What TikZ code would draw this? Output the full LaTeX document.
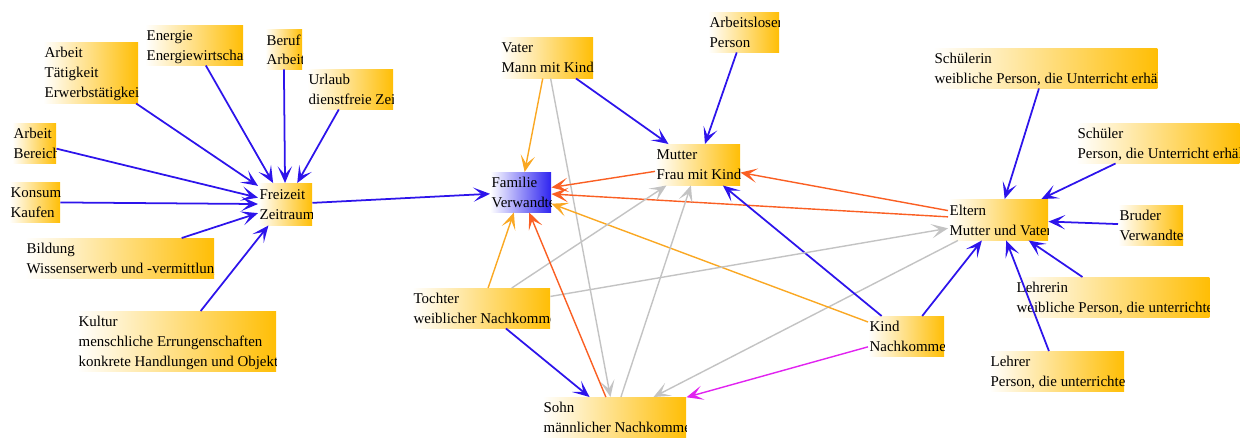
\documentclass[tikz,border=0pt]{standalone}
\usepackage{fontspec}
\setmainfont{Liberation Serif}
\usetikzlibrary{arrows.meta}

\definecolor{boxgold}{RGB}{255,190,5}
\definecolor{famblue}{RGB}{45,35,240}
\definecolor{linkblue}{RGB}{45,20,235}
\definecolor{linkamber}{RGB}{250,168,35}
\definecolor{linkred}{RGB}{250,95,35}
\definecolor{linkgrey}{RGB}{195,195,195}
\definecolor{linkpink}{RGB}{225,35,240}

\tikzset{
	conceptlabel/.style={anchor=north west, inner xsep=1pt, inner ysep=4.3pt, align=left, font=\fontsize{12.75}{17}\selectfont},
	concept/.style={anchor=north west, inner sep=0pt, left color=white, right color=boxgold,
		path picture={\node[conceptlabel] at (path picture bounding box.north west) {#1};}},
	familybox/.style={concept={#1}, right color=famblue},
	link/.style={-{Stealth[length=5mm,width=4.3mm,inset=2.5mm]}},
	bluelink/.style={link, draw=linkblue, line width=1.5pt},
	amberlink/.style={link, draw=linkamber, line width=1.2pt},
	redlink/.style={link, draw=linkred, line width=1.2pt},
	greylink/.style={link, draw=linkgrey, line width=1.2pt},
	pinklink/.style={link, draw=linkpink, line width=1.2pt}
}

\begin{document}
\begin{tikzpicture}[x=0.03cm, y=-0.03cm]
		\useasboundingbox (0,0) rectangle (1247,437);
		%%%%% LEFT %%%%%
		\node[concept={Arbeit\\Tätigkeit\\Erwerbstätigkeit}, minimum width=2.85cm, minimum height=1.83cm] (arbeitT) at (43,42) {};
		\node[concept={Energie\\Energiewirtschaft}, minimum width=2.94cm, minimum height=1.2cm] (energie) at (145,25) {};
		\node[concept={Beruf\\Arbeit}, minimum width=1.11cm, minimum height=1.2cm] (beruf) at (265,29) {};
		\node[concept={Urlaub\\dienstfreie Zeit}, minimum width=2.58cm, minimum height=1.2cm] (urlaub) at (307,69) {};
		\node[concept={Arbeit\\Bereich}, minimum width=1.32cm, minimum height=1.2cm] (arbeitB) at (12,123) {};
		\node[concept={Konsum\\Kaufen}, minimum width=1.53cm, minimum height=1.2cm] (konsum) at (9,182) {};
		\node[concept={Freizeit\\Zeitraum}, minimum width=1.62cm, minimum height=1.26cm] (freizeit) at (258,183) {};
		\node[concept={Bildung\\Wissenserwerb und -vermittlung}, minimum width=5.67cm, minimum height=1.2cm] (bildung) at (25,238) {};
		\node[concept={Kultur\\menschliche Errungenschaften\\konkrete Handlungen und Objekte}, minimum width=5.97cm, minimum height=1.8cm] (kultur) at (77,311) {};
		
		%%%%% MIDDLE %%%%%
		\node[concept={Vater\\Mann mit Kind}, minimum width=2.79cm, minimum height=1.23cm] (vater) at (500,37) {};
		\node[concept={Arbeitsloser\\Person}, minimum width=2.13cm, minimum height=1.2cm] (arbeitslos) at (708,12) {};
		\node[concept={Mutter\\Frau mit Kind}, minimum width=2.55cm, minimum height=1.23cm] (mutter) at (655,144) {};
		\node[familybox={Familie\\Verwandte}, minimum width=1.83cm, minimum height=1.2cm] (familie) at (490,172) {};
		\node[concept={Tochter\\weiblicher Nachkomme}, minimum width=4.14cm, minimum height=1.2cm] (tochter) at (412,288) {};
		\node[concept={Sohn\\männlicher Nachkomme}, minimum width=4.32cm, minimum height=1.2cm] (sohn) at (542,397) {};
		\node[concept={Kind\\Nachkomme}, minimum width=2.28cm, minimum height=1.2cm] (kind) at (868,316) {};
		\node[concept={Eltern\\Mutter und Vater}, minimum width=3cm, minimum height=1.23cm] (eltern) at (948,199) {};
		
		%%%%% RIGHT %%%%%
		\node[concept={Schülerin\\weibliche Person, die Unterricht erhält}, minimum width=6.72cm, minimum height=1.2cm] (schuelerin) at (933,48) {};
		\node[concept={Schüler\\Person, die Unterricht erhält}, minimum width=4.89cm, minimum height=1.2cm] (schueler) at (1076,123) {};
		\node[concept={Bruder\\Verwandter}, minimum width=1.95cm, minimum height=1.2cm] (bruder) at (1118,205) {};
		\node[concept={Lehrerin\\weibliche Person, die unterrichtet}, minimum width=5.82cm, minimum height=1.2cm] (lehrerin) at (1015,277) {};
		\node[concept={Lehrer\\Person, die unterrichtet}, minimum width=4.05cm, minimum height=1.2cm] (lehrer) at (989,351) {};
		
		%%%%% LINKS %%%%%
		\foreach \from in {arbeitT,energie,beruf,urlaub,arbeitB,konsum,bildung,kultur}
			\draw[bluelink] (\from) -- (freizeit);
		\draw[bluelink] (freizeit) -- (familie);
		
		\draw[amberlink] (vater) -- (familie);
		\draw[greylink] (vater) -- (sohn);
		\draw[bluelink] (vater) -- (mutter);
		\draw[bluelink] (arbeitslos) -- (mutter);
		\draw[redlink] (mutter) -- (familie);
		\draw[redlink] (eltern) -- (familie);
		\draw[redlink] (eltern) -- (mutter);
		\draw[greylink] (eltern) -- (sohn);
		
		\draw[amberlink] (kind) -- (familie);
		\draw[bluelink] (kind) -- (mutter);
		\draw[bluelink] (kind) -- (eltern);
		\draw[pinklink] (kind) -- (sohn);
		
		\draw[greylink] (tochter) -- (eltern);
		\draw[greylink] (tochter) -- (mutter);
		\draw[amberlink] (tochter) -- (familie);
		\draw[bluelink] (tochter) -- (sohn);
		\draw[greylink] (sohn) -- (mutter);
		\draw[redlink] (sohn) -- (familie);
		
		\foreach \from in {schuelerin,schueler,bruder,lehrerin,lehrer}
			\draw[bluelink] (\from) -- (eltern);
	\end{tikzpicture}
\end{document}
